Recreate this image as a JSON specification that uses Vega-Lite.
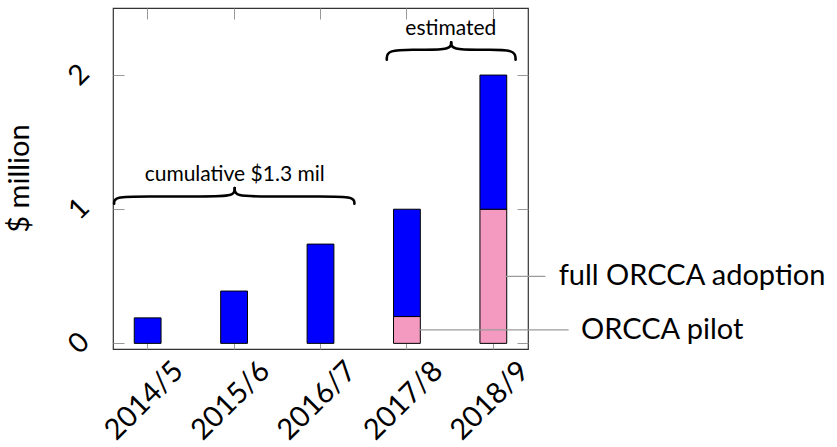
{
  "$schema": "https://vega.github.io/schema/vega-lite/v6.json",
  "width": 415,
  "height": 341,
  "autosize": {"type": "none"},
  "padding": {"left": 113, "top": 8, "right": 309, "bottom": 98},
  "config": {
    "font": "Lato",
    "view": {"stroke": "#333", "strokeWidth": 1.2},
    "axis": {"grid": false}
  },
  "datasets": {
    "bars": [
      {"period": "2014/5", "part": "other", "value": 0.19},
      {"period": "2015/6", "part": "other", "value": 0.39},
      {"period": "2016/7", "part": "other", "value": 0.74},
      {"period": "2017/8", "part": "ORCCA", "value": 0.2},
      {"period": "2017/8", "part": "other", "value": 0.8},
      {"period": "2018/9", "part": "ORCCA", "value": 1.0},
      {"period": "2018/9", "part": "other", "value": 1.0}
    ],
    "braces": [
      {"seg": "c1", "k": 0, "x": -0.388, "y": 1.041},
      {"seg": "c1", "k": 1, "x": -0.388, "y": 1.095},
      {"seg": "c1", "k": 2, "x": -0.038, "y": 1.095},
      {"seg": "c1", "k": 3, "x": 0.657, "y": 1.095},
      {"seg": "c1", "k": 4, "x": 1.007, "y": 1.095},
      {"seg": "c1", "k": 5, "x": 1.007, "y": 1.158},
      {"seg": "c2", "k": 0, "x": 1.007, "y": 1.158},
      {"seg": "c2", "k": 1, "x": 1.007, "y": 1.095},
      {"seg": "c2", "k": 2, "x": 1.357, "y": 1.095},
      {"seg": "c2", "k": 3, "x": 2.042, "y": 1.095},
      {"seg": "c2", "k": 4, "x": 2.392, "y": 1.095},
      {"seg": "c2", "k": 5, "x": 2.392, "y": 1.041},
      {"seg": "e1", "k": 0, "x": 2.767, "y": 2.115},
      {"seg": "e1", "k": 1, "x": 2.767, "y": 2.189},
      {"seg": "e1", "k": 2, "x": 3.117, "y": 2.189},
      {"seg": "e1", "k": 3, "x": 3.162, "y": 2.189},
      {"seg": "e1", "k": 4, "x": 3.512, "y": 2.189},
      {"seg": "e1", "k": 5, "x": 3.512, "y": 2.244},
      {"seg": "e2", "k": 0, "x": 3.512, "y": 2.244},
      {"seg": "e2", "k": 1, "x": 3.512, "y": 2.189},
      {"seg": "e2", "k": 2, "x": 3.862, "y": 2.189},
      {"seg": "e2", "k": 3, "x": 3.907, "y": 2.189},
      {"seg": "e2", "k": 4, "x": 4.257, "y": 2.189},
      {"seg": "e2", "k": 5, "x": 4.257, "y": 2.115}
    ],
    "pointers": [
      {"seg": "full", "x": 4.139, "y": 0.5},
      {"seg": "full", "x": 4.602, "y": 0.5},
      {"seg": "pilot", "x": 3.136, "y": 0.1},
      {"seg": "pilot", "x": 4.871, "y": 0.1}
    ],
    "smallNotes": [
      {"x": 1.007, "y": 1.207, "text": "cumulative $1.3 mil"},
      {"x": 3.508, "y": 2.299, "text": "estimated"}
    ],
    "bigNotes": [
      {"x": 4.756, "y": 0.437, "text": "full ORCCA adoption"},
      {"x": 5.015, "y": 0.034, "text": "ORCCA pilot"}
    ]
  },
  "resolve": {
    "scale": {"x": "independent"},
    "axis": {"x": "independent", "y": "independent"}
  },
  "layer": [
    {
      "data": {"name": "bars"},
      "mark": {"type": "bar", "opacity": 0},
      "encoding": {
        "x": {
          "field": "period", "type": "nominal",
          "scale": {"paddingInner": 0.69, "paddingOuter": 0.246},
          "axis": {"orient": "top", "labels": false, "tickSize": -11, "tickColor": "#999", "domain": false, "title": null}
        },
        "y": {
          "field": "value", "type": "quantitative",
          "scale": {"domain": [-0.042, 2.5], "nice": false, "zero": false},
          "axis": {"orient": "right", "values": [0, 1, 2], "labels": false, "tickSize": -11, "tickColor": "#999", "domain": false, "title": null}
        }
      }
    },
    {
      "data": {"name": "bars"},
      "mark": {"type": "bar", "stroke": "#000", "strokeWidth": 1},
      "encoding": {
        "x": {
          "field": "period", "type": "nominal",
          "scale": {"paddingInner": 0.69, "paddingOuter": 0.246},
          "axis": {
            "orient": "bottom", "labelAngle": -45, "labelAlign": "right", "labelBaseline": "middle",
            "labelOffset": 31, "labelPadding": 28, "tickSize": -11, "tickColor": "#999",
            "domain": false, "title": null, "labelFont": "Lato", "labelFontSize": 29, "labelColor": "#000"
          }
        },
        "y": {
          "field": "value", "type": "quantitative", "stack": "zero",
          "scale": {"domain": [-0.042, 2.5], "nice": false, "zero": false},
          "axis": {
            "orient": "left", "values": [0, 1, 2], "labelAngle": -45, "labelAlign": "center", "labelBaseline": "middle",
            "labelPadding": 45, "tickSize": -11, "tickColor": "#999", "domain": false,
            "labelFont": "Lato", "labelFontSize": 28, "labelColor": "#000",
            "title": "$ million", "titleAngle": -90, "titleX": -85, "titleY": 170, "titleAlign": "center",
            "titleBaseline": "alphabetic", "titleFont": "Lato", "titleFontSize": 29, "titleFontWeight": "normal", "titleColor": "#000"
          }
        },
        "color": {
          "field": "part", "type": "nominal",
          "scale": {"domain": ["ORCCA", "other"], "range": ["#F49AC1", "#0000FF"]},
          "legend": null
        },
        "order": {"field": "part", "sort": "ascending"}
      }
    },
    {
      "data": {"name": "pointers"},
      "mark": {"type": "line", "color": "#9a9a9a", "strokeWidth": 1.2},
      "encoding": {
        "x": {"field": "x", "type": "quantitative", "scale": {"domain": [-0.401, 4.401], "nice": false, "zero": false}, "axis": null},
        "y": {"field": "y", "type": "quantitative", "axis": null},
        "detail": {"field": "seg", "type": "nominal"}
      }
    },
    {
      "data": {"name": "braces"},
      "mark": {"type": "line", "color": "#000", "strokeWidth": 2.6, "interpolate": "basis", "strokeCap": "round"},
      "encoding": {
        "x": {"field": "x", "type": "quantitative", "scale": {"domain": [-0.401, 4.401], "nice": false, "zero": false}, "axis": null},
        "y": {"field": "y", "type": "quantitative", "axis": null},
        "detail": {"field": "seg", "type": "nominal"},
        "order": {"field": "k", "type": "quantitative"}
      }
    },
    {
      "data": {"name": "smallNotes"},
      "mark": {"type": "text", "align": "center", "baseline": "alphabetic", "fontSize": 21, "font": "Lato", "color": "#000"},
      "encoding": {
        "x": {"field": "x", "type": "quantitative", "scale": {"domain": [-0.401, 4.401], "nice": false, "zero": false}, "axis": null},
        "y": {"field": "y", "type": "quantitative", "axis": null},
        "text": {"field": "text"}
      }
    },
    {
      "data": {"name": "bigNotes"},
      "mark": {"type": "text", "align": "left", "baseline": "alphabetic", "fontSize": 29, "font": "Lato", "color": "#000"},
      "encoding": {
        "x": {"field": "x", "type": "quantitative", "scale": {"domain": [-0.401, 4.401], "nice": false, "zero": false}, "axis": null},
        "y": {"field": "y", "type": "quantitative", "axis": null},
        "text": {"field": "text"}
      }
    }
  ]
}
